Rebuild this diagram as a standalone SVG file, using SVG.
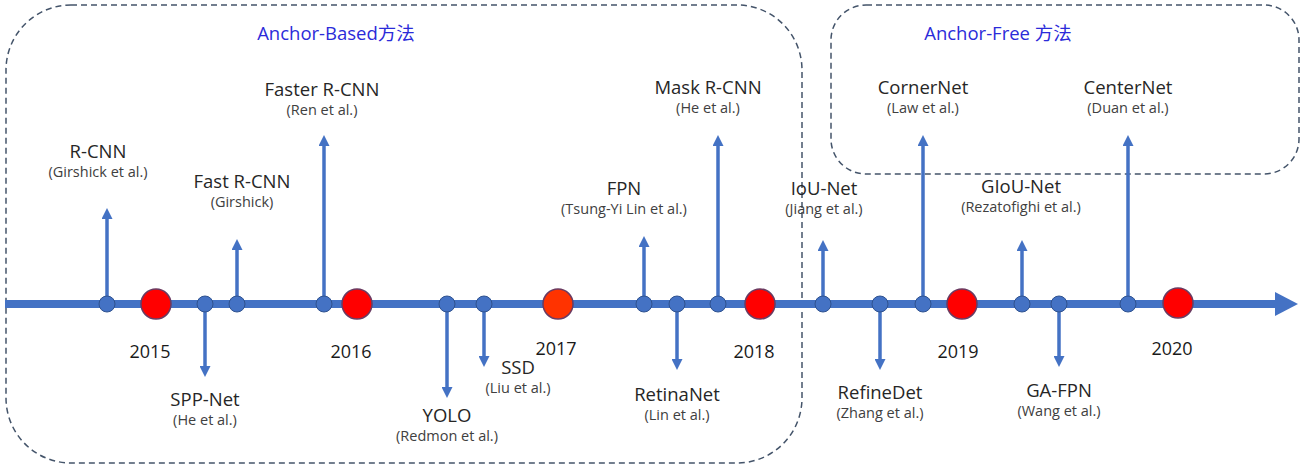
<svg xmlns="http://www.w3.org/2000/svg" width="1306" height="466" viewBox="0 0 1306 466">
<defs>
<style>
.box{fill:none;stroke:#44546A;stroke-width:1.5;stroke-dasharray:6,4}
.grp{font-family:"Open Sans","Noto Sans CJK SC",sans-serif;font-size:18.5px;fill:#2B2BD9;text-anchor:middle}
.axis{stroke:#4472C4;stroke-width:8}
.arr{stroke:#4472C4;stroke-width:3.5;fill:none;marker-end:url(#ah)}
.dot{fill:#4472C4;stroke:#2F528F;stroke-width:1}
.yr{fill:#FF0000;stroke:#6A3B62;stroke-width:1.5}
.t{font-family:"Open Sans",sans-serif;font-size:18.5px;fill:#262626;text-anchor:middle}
.s{font-family:"Open Sans",sans-serif;font-size:14.5px;fill:#404040;text-anchor:middle}
.y{font-family:"Open Sans",sans-serif;font-size:18px;fill:#1a1a1a;text-anchor:middle}
</style>
<marker id="ah" markerUnits="userSpaceOnUse" markerWidth="11" markerHeight="11" viewBox="0 0 11 11" refX="0" refY="5.5" orient="auto">
<path d="M0,0 L11,5.5 L0,11 z" fill="#4472C4"/>
</marker>
</defs>
<rect width="1306" height="466" fill="#fff"/>
<g id="groups">
<rect class="box" x="6" y="5" width="796" height="458" rx="65" ry="65"/>
<text class="grp" x="336" y="40">Anchor-Based方法</text>
<rect class="box" x="831" y="5" width="468" height="169" rx="35" ry="35"/>
<text class="grp" x="998" y="40">Anchor-Free 方法</text>
</g>
<g id="connectors">
<line class="axis" x1="5" y1="304" x2="1276" y2="304"/>
<polygon points="1275,292 1298,304 1275,316" fill="#4472C4"/>
<line class="arr" x1="107" y1="304" x2="107" y2="219"/>
<line class="arr" x1="205" y1="304" x2="205" y2="366"/>
<line class="arr" x1="237" y1="304" x2="237" y2="250"/>
<line class="arr" x1="324" y1="304" x2="324" y2="146"/>
<line class="arr" x1="447" y1="304" x2="447" y2="387"/>
<line class="arr" x1="484" y1="304" x2="484" y2="356"/>
<line class="arr" x1="644" y1="304" x2="644" y2="247"/>
<line class="arr" x1="677" y1="304" x2="677" y2="359"/>
<line class="arr" x1="718" y1="304" x2="718" y2="146"/>
<line class="arr" x1="823" y1="304" x2="823" y2="251"/>
<line class="arr" x1="880" y1="304" x2="880" y2="359"/>
<line class="arr" x1="923" y1="304" x2="923" y2="146"/>
<line class="arr" x1="1022" y1="304" x2="1022" y2="251"/>
<line class="arr" x1="1059" y1="304" x2="1059" y2="356"/>
<line class="arr" x1="1128" y1="304" x2="1128" y2="146"/>
</g>
<g id="y2015"><circle class="yr" cx="156" cy="304" r="15"/><text class="y" x="150" y="358">2015</text></g>
<g id="y2016"><circle class="yr" cx="357" cy="304" r="15"/><text class="y" x="351" y="358">2016</text></g>
<g id="y2017"><circle class="yr" cx="558" cy="304" r="15" style="fill:#FF3300"/><text class="y" x="556" y="355">2017</text></g>
<g id="y2018"><circle class="yr" cx="760" cy="304" r="15"/><text class="y" x="754" y="358">2018</text></g>
<g id="y2019"><circle class="yr" cx="962" cy="304" r="15"/><text class="y" x="958" y="358">2019</text></g>
<g id="y2020"><circle class="yr" cx="1178" cy="303" r="15"/><text class="y" x="1172" y="355">2020</text></g>
<g id="rcnn"><circle class="dot" cx="107" cy="304" r="8"/><text class="t" x="98" y="158">R-CNN</text><text class="s" x="98" y="177">(Girshick et al.)</text></g>
<g id="sppnet"><circle class="dot" cx="205" cy="304" r="8"/><text class="t" x="205" y="406">SPP-Net</text><text class="s" x="205" y="425">(He et al.)</text></g>
<g id="fastrcnn"><circle class="dot" cx="237" cy="304" r="8"/><text class="t" x="242" y="188">Fast R-CNN</text><text class="s" x="242" y="207">(Girshick)</text></g>
<g id="fasterrcnn"><circle class="dot" cx="324" cy="304" r="8"/><text class="t" x="322" y="96">Faster R-CNN</text><text class="s" x="322" y="115">(Ren et al.)</text></g>
<g id="yolo"><circle class="dot" cx="447" cy="304" r="8"/><text class="t" x="447" y="422">YOLO</text><text class="s" x="447" y="441">(Redmon et al.)</text></g>
<g id="ssd"><circle class="dot" cx="484" cy="304" r="8"/><text class="t" x="518" y="374">SSD</text><text class="s" x="518" y="393">(Liu et al.)</text></g>
<g id="fpn"><circle class="dot" cx="644" cy="304" r="8"/><text class="t" x="624" y="195">FPN</text><text class="s" x="624" y="214">(Tsung-Yi Lin et al.)</text></g>
<g id="retinanet"><circle class="dot" cx="677" cy="304" r="8"/><text class="t" x="677" y="401">RetinaNet</text><text class="s" x="677" y="420">(Lin et al.)</text></g>
<g id="maskrcnn"><circle class="dot" cx="718" cy="304" r="8"/><text class="t" x="708" y="94">Mask R-CNN</text><text class="s" x="708" y="113">(He et al.)</text></g>
<g id="iounet"><circle class="dot" cx="823" cy="304" r="8"/><text class="t" x="824" y="195">IoU-Net</text><text class="s" x="824" y="214">(Jiang et al.)</text></g>
<g id="refinedet"><circle class="dot" cx="880" cy="304" r="8"/><text class="t" x="880" y="399">RefineDet</text><text class="s" x="880" y="418">(Zhang et al.)</text></g>
<g id="cornernet"><circle class="dot" cx="923" cy="304" r="8"/><text class="t" x="923" y="94">CornerNet</text><text class="s" x="923" y="113">(Law et al.)</text></g>
<g id="giounet"><circle class="dot" cx="1022" cy="304" r="8"/><text class="t" x="1021" y="193">GIoU-Net</text><text class="s" x="1021" y="212">(Rezatofighi et al.)</text></g>
<g id="gafpn"><circle class="dot" cx="1059" cy="304" r="8"/><text class="t" x="1059" y="397">GA-FPN</text><text class="s" x="1059" y="416">(Wang et al.)</text></g>
<g id="centernet"><circle class="dot" cx="1128" cy="304" r="8"/><text class="t" x="1128" y="94">CenterNet</text><text class="s" x="1128" y="113">(Duan et al.)</text></g>
</svg>
